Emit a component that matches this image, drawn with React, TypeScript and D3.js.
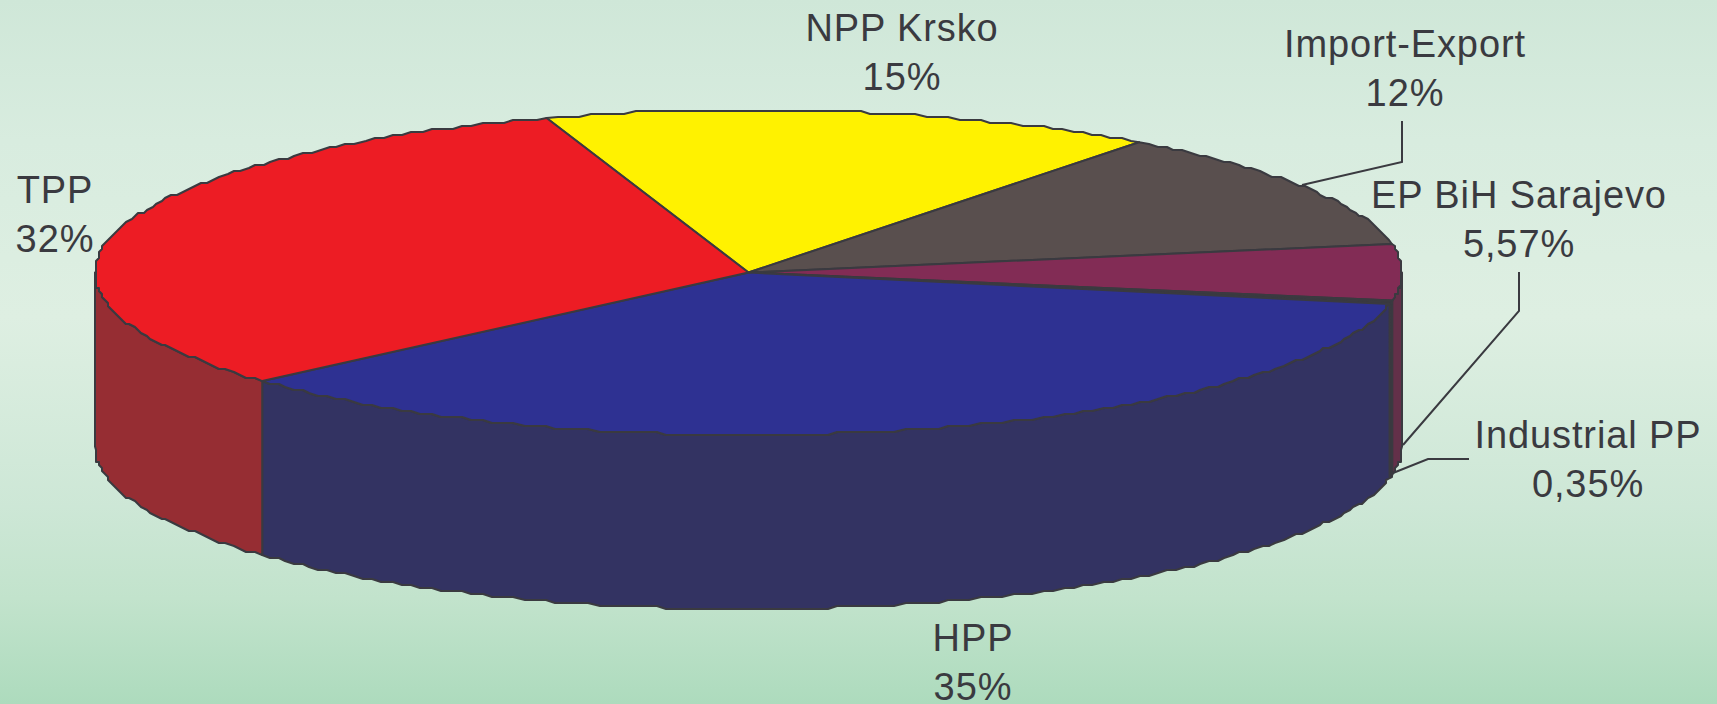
import React from "react";
import * as d3 from "d3";

const W = 1717;
const H = 704;

const sliceNames = ["NPP Krsko", "Import-Export", "EP BiH Sarajevo", "Industrial PP", "HPP", "TPP"];
const sliceValues = [15.2, 12, 5.57, 0.35, 35.25, 31.65];
const sliceLabels = ["15%", "12%", "5,57%", "0,35%", "35%", "32%"];
const topColors = ["#FFF200", "#594F4E", "#822C55", "#3A3A40", "#2E3192", "#ED1C24"];
const sideColors = ["#807900", "#3F3837", "#633049", "#3A3A40", "#333362", "#962D33"];

const labelX = [902, 1405, 1519, 1588, 973, 55];
const labelY = [41, 57, 208, 448, 651, 203];

const leaders = [
  [[1402, 121], [1402, 162], [1302, 185]],
  [[1519, 272], [1519, 311], [1403, 445]],
  [[1469, 459], [1428, 459], [1393, 473]],
];

const backgroundStops: [number, string][] = [
  [0, "#CFE7D8"],
  [0.2, "#D8ECDF"],
  [0.45, "#DEEFE2"],
  [0.72, "#CDE7D6"],
  [0.85, "#C2E3CC"],
  [1, "#ADDBBD"],
];

const INK = "#3A3A40";
const DEPTH = 174;
const GRID = 3;

const x = d3.scaleLinear().domain([-1, 1]).range([95, 1402]);
const y = d3.scaleLinear().domain([-1, 1]).range([110, 435]);
const snap = (v: number) => Math.round(v / GRID) * GRID;

const pie = d3
  .pie<number>()
  .sort(null)
  .startAngle((-18 * Math.PI) / 180)
  .endAngle((342 * Math.PI) / 180);

const arcs = pie(sliceValues);

function rim(a0: number, a1: number, dy = 0): [number, number][] {
  const stepCount = Math.max(2, Math.ceil(Math.abs(a1 - a0) / (Math.PI / 180)));
  const pts = d3.range(stepCount + 1).map((i) => {
    const a = a0 + ((a1 - a0) * i) / stepCount;
    const end = i === 0 || i === stepCount;
    const px = x(Math.sin(a));
    const py = y(-Math.cos(a)) + dy;
    return (end ? [px, py] : [snap(px), snap(py)]) as [number, number];
  });
  return pts.filter((p, i) => i === 0 || p[0] !== pts[i - 1][0] || p[1] !== pts[i - 1][1]);
}

const line = d3.line();
const cx = x(0);
const cy = y(0);

export default function App() {
  const lo = Math.PI / 2;
  const hi = (3 * Math.PI) / 2;
  return (
    <svg
      width={W}
      height={H}
      viewBox={`0 0 ${W} ${H}`}
      style={{ position: "fixed", left: 0, top: 0, display: "block" }}
    >
      <defs>
        <linearGradient id="bg" x1="0" y1="0" x2="0" y2="1">
          {backgroundStops.map(([o, c]) => (
            <stop key={o} offset={o} stopColor={c} />
          ))}
        </linearGradient>
      </defs>
      <rect width={W} height={H} fill="url(#bg)" />

      {arcs.map((d, i) => {
        const a0 = Math.max(d.startAngle, lo);
        const a1 = Math.min(d.endAngle, hi);
        if (a1 <= a0) return null;
        const pts = [...rim(a0, a1), ...rim(a0, a1, DEPTH).reverse()];
        return (
          <path
            key={`side-${i}`}
            d={line(pts) + "Z"}
            fill={sideColors[i]}
            stroke={INK}
            strokeWidth={2}
            strokeLinejoin="round"
          />
        );
      })}

      {arcs.map((d, i) => {
        const pts: [number, number][] = [[cx, cy], ...rim(d.startAngle, d.endAngle)];
        return (
          <path
            key={`top-${i}`}
            d={line(pts) + "Z"}
            fill={topColors[i]}
            stroke={INK}
            strokeWidth={2}
            strokeLinejoin="round"
          />
        );
      })}

      {leaders.map((l, i) => (
        <path key={`leader-${i}`} d={line(l as [number, number][]) ?? ""} fill="none" stroke={INK} strokeWidth={2} />
      ))}

      {sliceNames.map((name, i) => (
        <text
          key={name}
          textAnchor="middle"
          fontFamily="'Liberation Sans', Arial, sans-serif"
          fontSize={38}
          fill={INK}
          letterSpacing={0.9}
        >
          <tspan x={labelX[i]} y={labelY[i]}>
            {name}
          </tspan>
          <tspan x={labelX[i]} y={labelY[i] + 49}>
            {sliceLabels[i]}
          </tspan>
        </text>
      ))}
    </svg>
  );
}
